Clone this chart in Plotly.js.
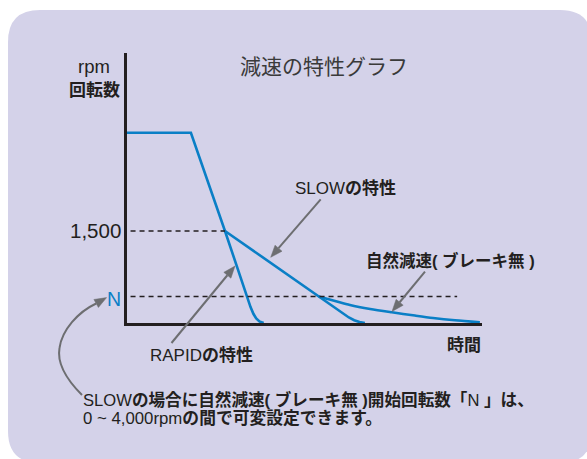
<!DOCTYPE html>
<html>
<head>
<meta charset="utf-8">
<script src="https://cdn.plot.ly/plotly-3.0.1.min.js"></script>
<style>html,body{margin:0;padding:0;background:#fff;}#chart{width:587px;height:459px;}</style>
</head>
<body>
<div id="chart"></div>
<script>
// ---- data (time in arbitrary units, rpm) ----
const rapidTime   = [0, 18, 27.6, 33.7, 34.8, 35.6, 36.4, 37.3, 38.5];
const rapidRpm    = [3100, 3100, 1500, 430, 260, 150, 75, 25, 0];
const slowTime    = [27.6, 54, 61, 62.5, 64, 65.5, 67];
const slowRpm     = [1500, 430, 145, 90, 45, 15, 0];
const naturalTime = [54, 58.6, 62.8, 68.5, 74.6, 81.1, 86.2, 92.4, 99.4];
const naturalRpm  = [430, 359, 293, 228, 174, 121, 82, 44, 11];
const levelValues = [1500, 430];
const levelLabels = ['1,500', 'N'];
const levelEnds   = [27.6, 93];

const W = 587, H = 459;
const px = x => x / W;
const py = y => 1 - y / H;
const LAT = 'Liberation Sans, Arial, Noto Sans CJK JP, sans-serif';
const JP = 'Noto Sans CJK JP, sans-serif';
const BLUE = '#0a7fc6';
const GRAY = '#6d6e71';
const INK = '#231f20';

const traces = [
  {x: rapidTime, y: rapidRpm, mode: 'lines', line: {color: BLUE, width: 2.6}},
  {x: slowTime, y: slowRpm, mode: 'lines', line: {color: BLUE, width: 2.6}},
  {x: naturalTime, y: naturalRpm, mode: 'lines', line: {color: BLUE, width: 2.6, shape: 'spline', smoothing: 0.8}}
];
levelValues.forEach((v, i) => {
  traces.push({x: [1, levelEnds[i]], y: [v, v], mode: 'lines',
    line: {color: INK, width: 1.5, dash: '5px,4px'}});
});

const P = (x, y) => px(x) + ',' + py(y);
function rr(x0, y0, x1, y1, r) {
  return 'M' + P(x0 + r, y0) + ' L' + P(x1 - r, y0) + ' Q' + P(x1, y0) + ' ' + P(x1, y0 + r) +
    ' L' + P(x1, y1 - r) + ' Q' + P(x1, y1) + ' ' + P(x1 - r, y1) +
    ' L' + P(x0 + r, y1) + ' Q' + P(x0, y1) + ' ' + P(x0, y1 - r) +
    ' L' + P(x0, y0 + r) + ' Q' + P(x0, y0) + ' ' + P(x0 + r, y0) + ' Z';
}
function head(hx, hy, dx, dy) {
  const L = Math.hypot(dx, dy), ux = dx / L, uy = dy / L;
  const bx = hx - 12 * ux, by = hy - 12 * uy, w = 4.6;
  return {base: [bx, by],
    path: 'M' + P(hx, hy) + ' L' + P(bx - w * uy, by + w * ux) + ' L' + P(bx + w * uy, by - w * ux) + ' Z'};
}
const shapes = [
  {type: 'path', xref: 'paper', yref: 'paper', path: rr(8, 10, 592, 463, 32),
   fillcolor: '#d4d2e9', line: {width: 0}, layer: 'below'}
];
function addArrow(tx, ty, hx, hy) {
  const h = head(hx, hy, hx - tx, hy - ty);
  shapes.push({type: 'path', xref: 'paper', yref: 'paper',
    path: 'M' + P(tx, ty) + ' L' + P(h.base[0], h.base[1]), line: {color: GRAY, width: 2}});
  shapes.push({type: 'path', xref: 'paper', yref: 'paper', path: h.path,
    fillcolor: GRAY, line: {color: GRAY, width: 0.5}});
}
addArrow(320.7, 199.3, 270.7, 257.3);   // SLOW
addArrow(425, 271.7, 392, 311.5);       // natural
addArrow(171.5, 343, 235, 266);         // RAPID
// curved arrow to N
const hN = head(106.6, 297.6, 0.87, -0.49);
shapes.push({type: 'path', xref: 'paper', yref: 'paper',
  path: 'M' + P(82, 395) + ' C' + P(65, 378) + ' ' + P(57, 362) + ' ' + P(59.5, 348) +
    ' C' + P(62, 330) + ' ' + P(78, 312) + ' ' + P(hN.base[0], hN.base[1]),
  line: {color: GRAY, width: 2}});
shapes.push({type: 'path', xref: 'paper', yref: 'paper', path: hN.path,
  fillcolor: GRAY, line: {color: GRAY, width: 0.5}});

function txt(text, x, y, size, opts) {
  return Object.assign({text: text, x: px(x), y: py(y), xref: 'paper', yref: 'paper',
    showarrow: false, xanchor: 'center', yanchor: 'middle', borderpad: 0,
    font: {family: LAT, size: size, color: INK}}, opts || {});
}

const annotations = [
  txt('減速の特性グラフ', 323.8, 65, 21, {font: {family: JP, size: 21, color: '#3a3a3a'}}),
  txt('rpm', 93.5, 67, 18.5),
  txt('<b>回転数</b>', 94, 88.5, 17, {font: {family: JP, size: 17, color: INK}}),
  {text: levelLabels[0], x: px(122), y: levelValues[0], xref: 'paper', yref: 'y', showarrow: false,
   xanchor: 'right', yanchor: 'middle', borderpad: 0, font: {family: LAT, size: 20.5, color: INK}},
  {text: levelLabels[1], x: px(122), y: levelValues[1] - 40, xref: 'paper', yref: 'y', showarrow: false,
   xanchor: 'right', yanchor: 'middle', borderpad: 0, font: {family: LAT, size: 19.5, color: BLUE}},
  txt('SLOW<b>の特性</b>', 345, 188.5, 17),
  txt('<b>自然減速( ブレーキ無 )</b>', 365, 260, 16.5, {xanchor: 'left'}),
  txt('RAPID<b>の特性</b>', 201.7, 355, 17),
  txt('<b>時間</b>', 482, 345, 17, {xanchor: 'right'}),
  txt('SLOW<b>の場合に自然減速( ブレーキ無 )開始回転数「</b>N <b>」は、</b>', 82, 400, 16.6, {xanchor: 'left'}),
  txt('0 ~ 4,000rpm<b>の間で可変設定できます。</b>', 82, 418.5, 16.8, {xanchor: 'left'})
];

const axisCommon = {showgrid: false, zeroline: false, showticklabels: false, ticks: '',
  showline: true, linecolor: INK, linewidth: 3, fixedrange: true};

const layout = {
  width: W, height: H,
  margin: {l: 0, r: 0, t: 0, b: 0},
  paper_bgcolor: '#ffffff',
  plot_bgcolor: 'rgba(0,0,0,0)',
  showlegend: false,
  xaxis: Object.assign({}, axisCommon, {domain: [px(127), px(482)], range: [0, 100]}),
  yaxis: Object.assign({}, axisCommon, {domain: [py(323), py(53)], range: [0, 4400]}),
  shapes: shapes,
  annotations: annotations
};

Plotly.newPlot('chart', traces, layout, {staticPlot: true, displayModeBar: false});
</script>
</body>
</html>
